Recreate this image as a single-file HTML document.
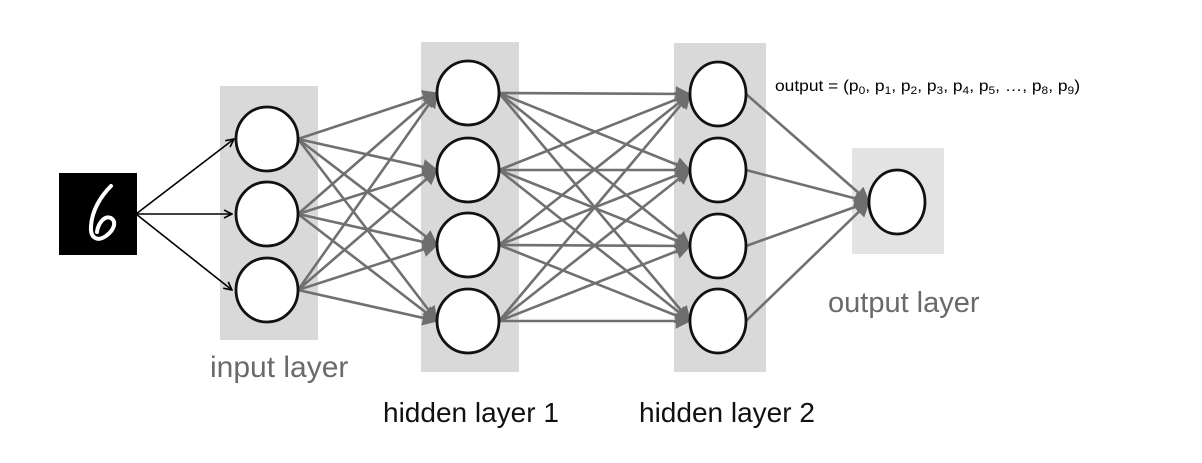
<!DOCTYPE html>
<html><head><meta charset="utf-8"><style>
body{margin:0;background:#fff;width:1202px;height:463px;overflow:hidden}
svg{display:block}
</style></head><body>
<svg width="1202" height="463" viewBox="0 0 1202 463" xmlns="http://www.w3.org/2000/svg">
<defs>
<marker id="g" markerWidth="6" markerHeight="6" refX="5.5" refY="3" orient="auto" markerUnits="strokeWidth">
<path d="M0,0 L6,3 L0,6 Z" fill="#6e6e6e"/></marker>
<marker id="b" markerWidth="10" markerHeight="10" refX="9" refY="5" orient="auto" markerUnits="userSpaceOnUse">
<path d="M1,1 L9,5 L1,9" fill="none" stroke="#000" stroke-width="1.6"/></marker>
</defs>
<rect x="220" y="86" width="98" height="254" fill="#d9d9d9"/>
<rect x="421" y="42" width="98" height="330" fill="#d9d9d9"/>
<rect x="674" y="43" width="92" height="329" fill="#d9d9d9"/>
<rect x="852" y="148" width="92" height="106" fill="#e3e3e3"/>
<g stroke="#707070" stroke-width="2.6" marker-end="url(#g)">
<line x1="298" y1="139" x2="437" y2="93"/><line x1="298" y1="139" x2="437" y2="170"/><line x1="298" y1="139" x2="437" y2="245"/><line x1="298" y1="139" x2="437" y2="321"/>
<line x1="298" y1="214" x2="437" y2="93"/><line x1="298" y1="214" x2="437" y2="170"/><line x1="298" y1="214" x2="437" y2="245"/><line x1="298" y1="214" x2="437" y2="321"/>
<line x1="298" y1="290" x2="437" y2="93"/><line x1="298" y1="290" x2="437" y2="170"/><line x1="298" y1="290" x2="437" y2="245"/><line x1="298" y1="290" x2="437" y2="321"/>
<line x1="499" y1="93" x2="690" y2="94"/><line x1="499" y1="93" x2="690" y2="170"/><line x1="499" y1="93" x2="690" y2="246"/><line x1="499" y1="93" x2="690" y2="321"/>
<line x1="499" y1="170" x2="690" y2="94"/><line x1="499" y1="170" x2="690" y2="170"/><line x1="499" y1="170" x2="690" y2="246"/><line x1="499" y1="170" x2="690" y2="321"/>
<line x1="499" y1="245" x2="690" y2="94"/><line x1="499" y1="245" x2="690" y2="170"/><line x1="499" y1="245" x2="690" y2="246"/><line x1="499" y1="245" x2="690" y2="321"/>
<line x1="499" y1="321" x2="690" y2="94"/><line x1="499" y1="321" x2="690" y2="170"/><line x1="499" y1="321" x2="690" y2="246"/><line x1="499" y1="321" x2="690" y2="321"/>
<line x1="746" y1="94" x2="869" y2="202"/><line x1="746" y1="170" x2="869" y2="202"/><line x1="746" y1="246" x2="869" y2="202"/><line x1="746" y1="321" x2="869" y2="202"/>
</g>
<g stroke="#000" stroke-width="1.6" marker-end="url(#b)">
<line x1="136" y1="214" x2="234" y2="139"/>
<line x1="136" y1="214" x2="232" y2="214"/>
<line x1="136" y1="214" x2="232" y2="290"/>
</g>
<g fill="#fff" stroke="#111" stroke-width="2.8">
<ellipse cx="267" cy="139" rx="31" ry="32"/><ellipse cx="267" cy="214" rx="31" ry="32"/><ellipse cx="267" cy="290" rx="31" ry="32"/>
<ellipse cx="468" cy="93" rx="31" ry="32"/><ellipse cx="468" cy="170" rx="31" ry="32"/><ellipse cx="468" cy="245" rx="31" ry="32"/><ellipse cx="468" cy="321" rx="31" ry="32"/>
<ellipse cx="718" cy="94" rx="28" ry="32"/><ellipse cx="718" cy="170" rx="28" ry="32"/><ellipse cx="718" cy="246" rx="28" ry="32"/><ellipse cx="718" cy="321" rx="28" ry="32"/>
<ellipse cx="897" cy="202" rx="28" ry="32"/>
</g>
<rect x="59" y="173" width="78" height="82" fill="#000"/>
<path d="M111,186 C101,196 92,210 91,226 C90,238 97,242 106,236 C114,230 117,222 111,218 C104,215 98,224 97,232" fill="none" stroke="#fff" stroke-width="4" stroke-linecap="round"/>
<g font-family="Liberation Sans, sans-serif">
<text x="210" y="377" font-size="30" fill="#6a6a6a">input layer</text>
<text x="828" y="312" font-size="29" fill="#6a6a6a">output layer</text>
<text x="383" y="422" font-size="28" fill="#111">hidden layer 1</text>
<text x="639" y="422" font-size="28" fill="#111">hidden layer 2</text>
<text x="775" y="91" font-size="16" fill="#000" textLength="305" lengthAdjust="spacingAndGlyphs">output = (p<tspan font-size="11" dy="3">0</tspan><tspan dy="-3">, p</tspan><tspan font-size="11" dy="3">1</tspan><tspan dy="-3">, p</tspan><tspan font-size="11" dy="3">2</tspan><tspan dy="-3">, p</tspan><tspan font-size="11" dy="3">3</tspan><tspan dy="-3">, p</tspan><tspan font-size="11" dy="3">4</tspan><tspan dy="-3">, p</tspan><tspan font-size="11" dy="3">5</tspan><tspan dy="-3">, …, p</tspan><tspan font-size="11" dy="3">8</tspan><tspan dy="-3">, p</tspan><tspan font-size="11" dy="3">9</tspan><tspan dy="-3">)</tspan></text>
</g>
</svg>
</body></html>
